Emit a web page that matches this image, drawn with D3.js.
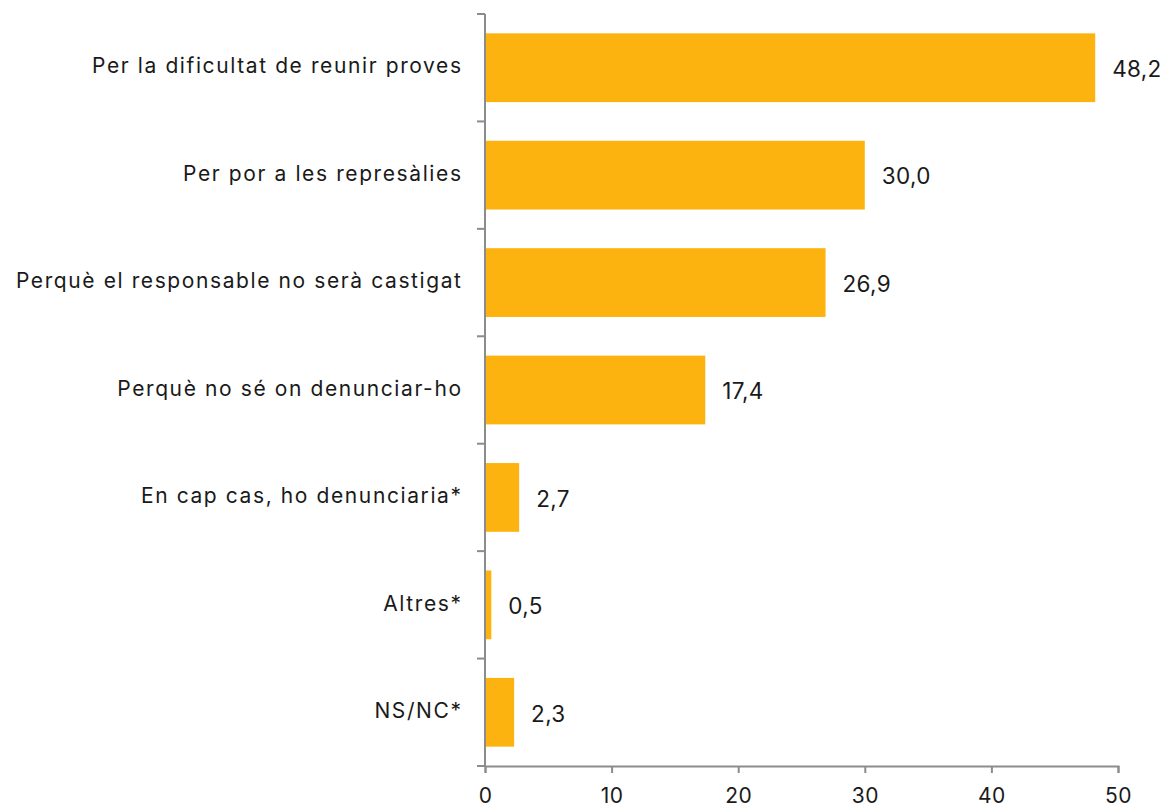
<!DOCTYPE html>
<html>
<head>
<meta charset="utf-8">
<script src="https://cdn.jsdelivr.net/npm/d3@7"></script>
<style>
  html, body { margin: 0; padding: 0; background: #fff; }
  svg { display: block; }
  text { font-family: "Inter", "Lato", sans-serif; fill: #1a1a1a; }
</style>
</head>
<body>
<svg id="chart" width="1165" height="809"></svg>
<script>
// Motius per no denunciar (%)
const categories = [
  "Per la dificultat de reunir proves",
  "Per por a les represàlies",
  "Perquè el responsable no serà castigat",
  "Perquè no sé on denunciar-ho",
  "En cap cas, ho denunciaria*",
  "Altres*",
  "NS/NC*"
];
const values = [48.2, 30.0, 26.9, 17.4, 2.7, 0.5, 2.3];
const xTicks = [0, 10, 20, 30, 40, 50];

const svg = d3.select("#chart");
const margin = { left: 485, right: 47, top: 14, bottom: 43 };
const W = 1165, H = 809;

const x = d3.scaleLinear().domain([0, 50]).range([margin.left, W - margin.right]);
const y = d3.scaleBand().domain(categories).range([margin.top, H - margin.bottom]).paddingInner(0.36).paddingOuter(0.18);

const fmt = v => d3.format(".1f")(v).replace(".", ",");
const axisColor = "#8c8c8c";
const labelSpacing = 1.6;

// bars
svg.append("g").selectAll("rect").data(values).join("rect")
  .attr("x", x(0))
  .attr("y", (d, i) => y(categories[i]))
  .attr("width", d => x(d) - x(0))
  .attr("height", y.bandwidth())
  .attr("fill", "#FDB30F");

// value labels
svg.append("g").selectAll("text").data(values).join("text")
  .attr("x", d => x(d) + 17)
  .attr("y", (d, i) => y(categories[i]) + y.bandwidth() / 2)
  .attr("dy", "0.41em")
  .attr("font-size", 22.5)
  .style("letter-spacing", "0.3px")
  .text(d => fmt(d));

// category axis with ticks between bands
const gy = svg.append("g");
gy.append("line")
  .attr("x1", x(0)).attr("x2", x(0))
  .attr("y1", margin.top).attr("y2", H - margin.bottom)
  .attr("stroke", axisColor).attr("stroke-width", 2);
const bandEdges = d3.range(categories.length + 1).map(i => margin.top + i * y.step());
gy.selectAll("line.t").data(bandEdges).join("line").attr("class", "t")
  .attr("x1", x(0) - 8).attr("x2", x(0))
  .attr("y1", d => d).attr("y2", d => d)
  .attr("stroke", axisColor).attr("stroke-width", 2);
gy.selectAll("text").data(categories).join("text")
  .attr("x", x(0) - 24 + labelSpacing)
  .attr("y", d => y(d) + y.bandwidth() / 2)
  .attr("dy", "0.27em")
  .attr("text-anchor", "end")
  .attr("font-size", 21)
  .style("letter-spacing", labelSpacing + "px")
  .text(d => d);

// value axis
const gx = svg.append("g").attr("transform", `translate(0,${H - margin.bottom})`)
  .call(d3.axisBottom(x).tickValues(xTicks).tickSize(7).tickPadding(15).tickFormat(d => d));
gx.select(".domain").attr("stroke", axisColor).attr("stroke-width", 2);
gx.selectAll(".tick line").attr("stroke", axisColor).attr("stroke-width", 2);
gx.selectAll(".tick text").attr("font-size", 21).attr("fill", "#1a1a1a")
  .style("font-family", "Inter, Lato, sans-serif").style("letter-spacing", "0.5px");
</script>
</body>
</html>
